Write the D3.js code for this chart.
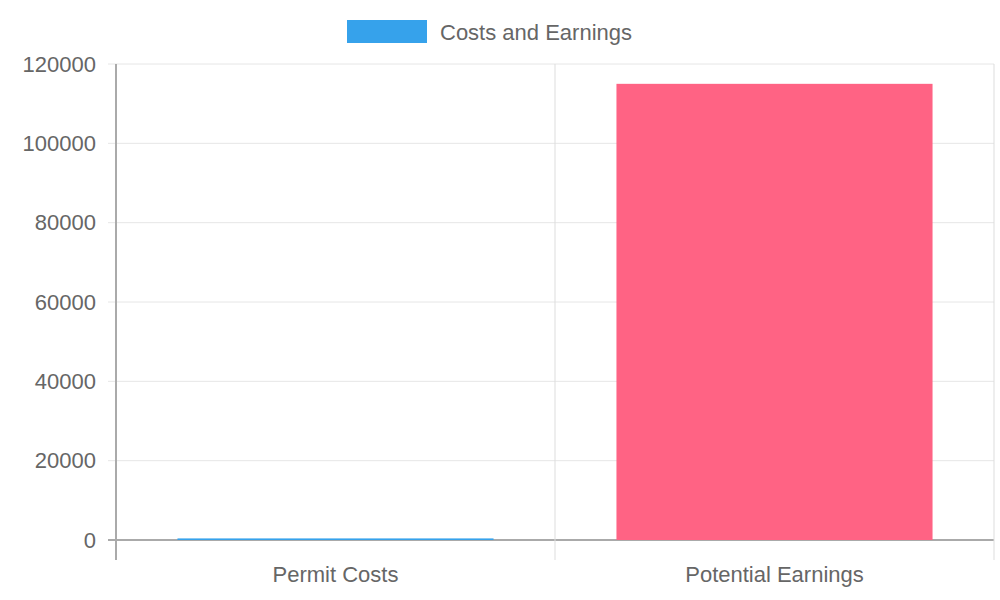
<!DOCTYPE html>
<html><head><meta charset="utf-8">
<script src="https://cdn.jsdelivr.net/npm/d3@7"></script>
<style>body{margin:0;background:#fff}text{font-family:"Liberation Sans",Arial,sans-serif;fill:#666}</style>
</head><body><svg id="c" width="1000" height="600"></svg>
<script>
const categories = ['Permit Costs', 'Potential Earnings'];
const values = [400, 115000];
const barColors = ['#36a2eb', '#ff6384'];
const yTicks = [0, 20000, 40000, 60000, 80000, 100000, 120000];
const legendLabel = 'Costs and Earnings';

const svg = d3.select('#c');
const plotLeft = 116, plotRight = 994, plotTop = 64, plotBottom = 540;

const x = d3.scaleBand().domain(categories).range([plotLeft, plotRight]);
const y = d3.scaleLinear().domain([0, 120000]).range([plotBottom, plotTop]);

// grid
svg.selectAll('.hg').data(yTicks).join('line')
  .attr('x1', plotLeft - 8).attr('x2', plotRight)
  .attr('y1', d => y(d)).attr('y2', d => y(d))
  .attr('stroke', d => d === 0 ? '#aaa' : '#e6e6e6').attr('stroke-width', d => d === 0 ? 2 : 1);
const vx = [plotLeft, ...categories.slice(1).map(c => x(c)), plotRight];
svg.selectAll('.vg').data(vx).join('line')
  .attr('x1', d => d).attr('x2', d => d).attr('y1', plotTop).attr('y2', plotBottom + 20)
  .attr('stroke', (d, i) => i === 0 ? '#aaa' : '#ddd').attr('stroke-width', (d, i) => i === 0 ? 2 : 1);

// bars
const bw = x.bandwidth() * 0.72;
svg.selectAll('.bar').data(values).join('rect')
  .attr('x', (d, i) => x(categories[i]) + (x.bandwidth() - bw) / 2)
  .attr('width', bw)
  .attr('y', d => y(d)).attr('height', d => plotBottom - y(d))
  .attr('fill', (d, i) => barColors[i]);

// labels
svg.selectAll('.yl').data(yTicks).join('text')
  .attr('x', plotLeft - 20).attr('y', d => y(d)).attr('dy', '0.35em')
  .attr('text-anchor', 'end').attr('font-size', 22).text(d => d);
svg.selectAll('.xl').data(categories).join('text')
  .attr('x', d => x(d) + x.bandwidth() / 2).attr('y', 582)
  .attr('text-anchor', 'middle').attr('font-size', 22).text(d => d);

// legend
svg.append('rect').attr('x', 347).attr('y', 20).attr('width', 80).attr('height', 23).attr('fill', barColors[0]);
svg.append('text').attr('x', 440).attr('y', 32).attr('dy', '0.35em').attr('font-size', 22).text(legendLabel);
</script></body></html>
